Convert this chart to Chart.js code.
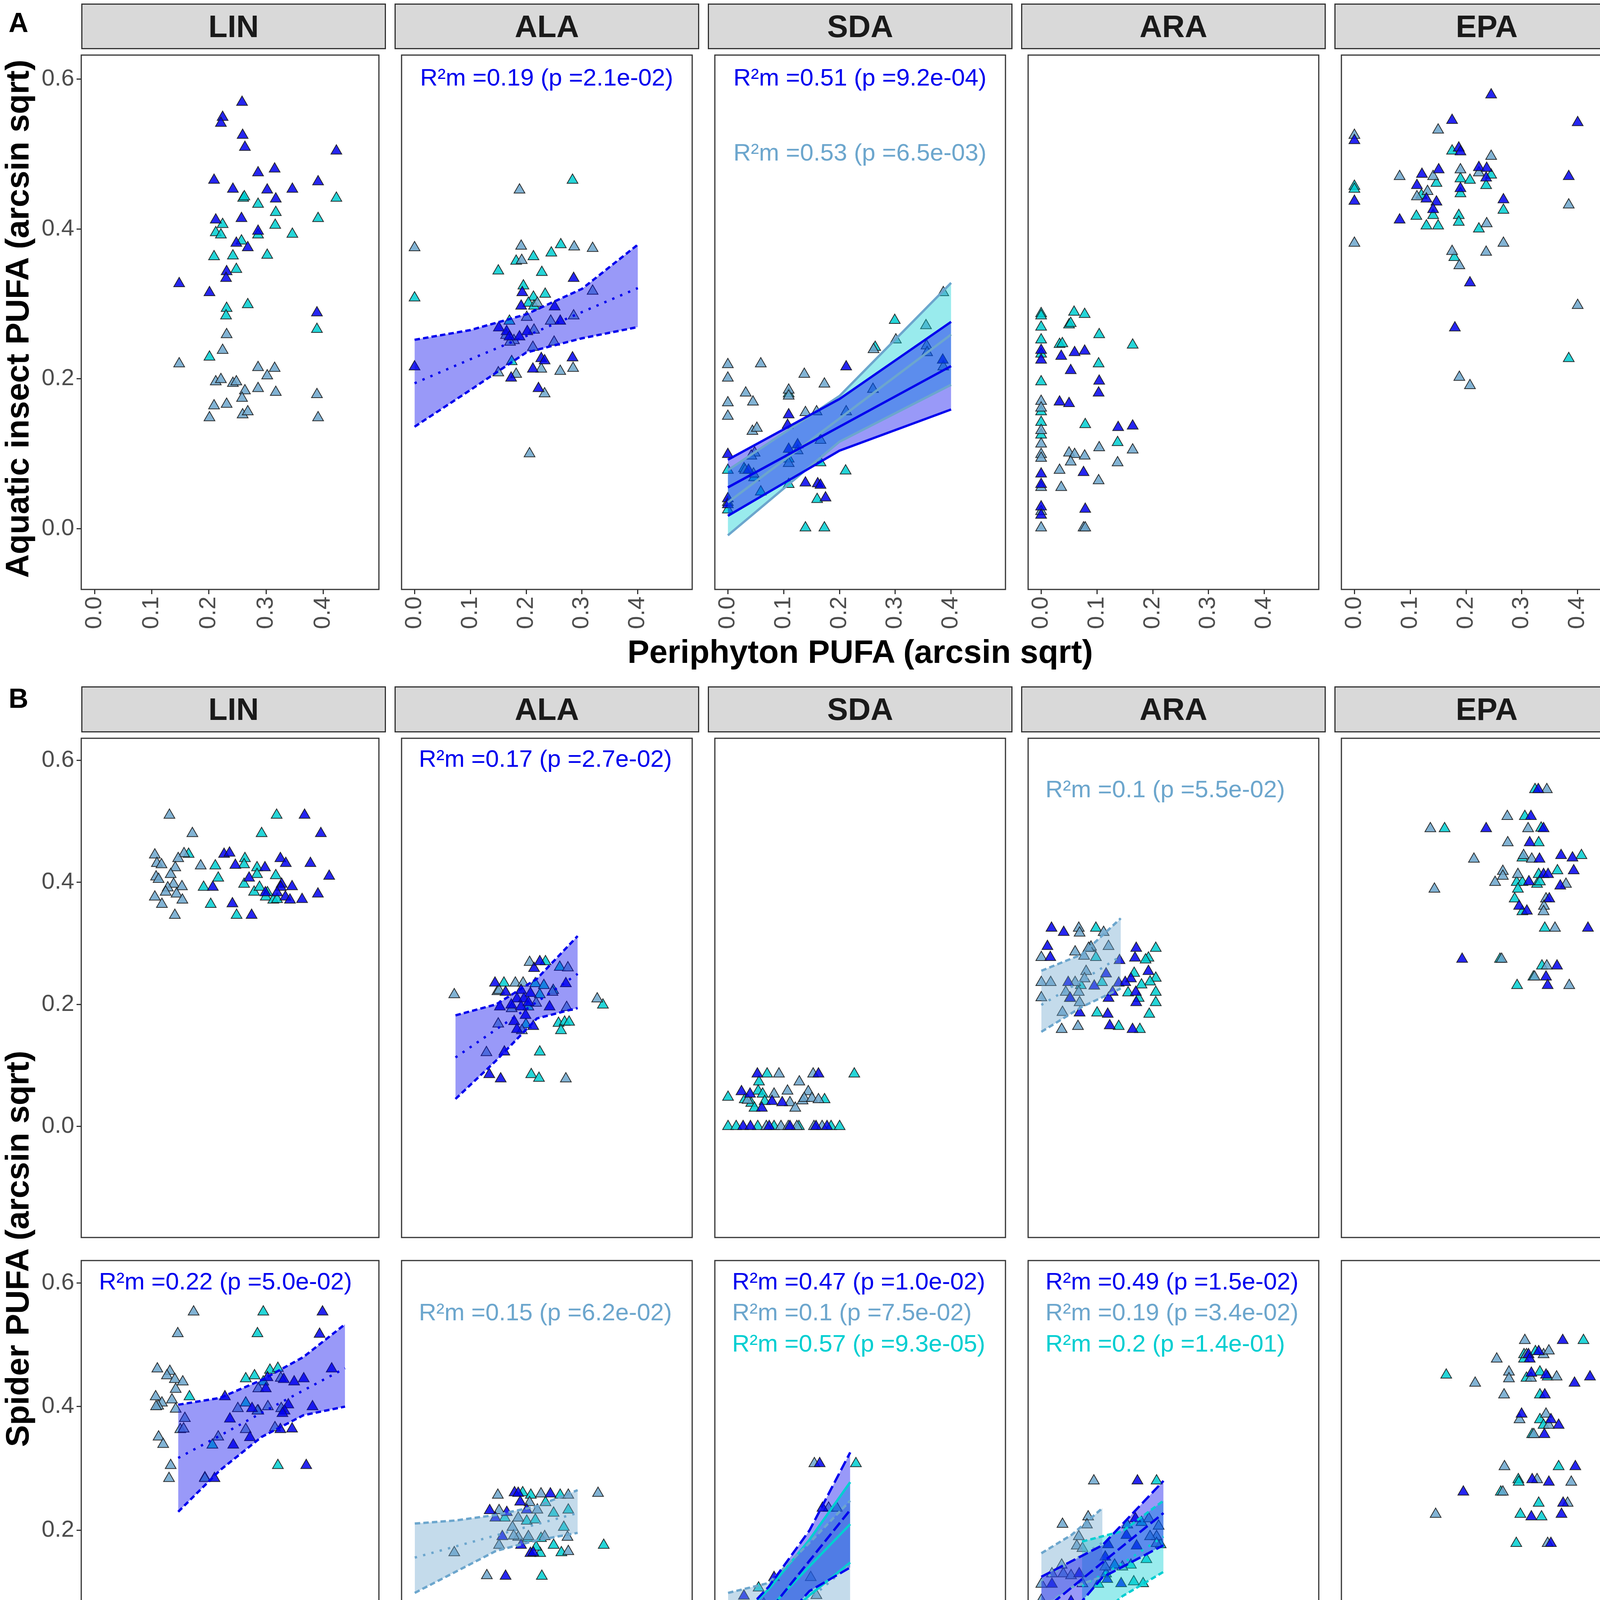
<!DOCTYPE html>
<html>
<head>
<meta charset="utf-8">
<script src="https://cdn.jsdelivr.net/npm/chart.js@4.4.1/dist/chart.umd.min.js"></script>
<style>
  html, body { margin: 0; padding: 0; background: #fff; }
  #fig { position: relative; width: 4317px; height: 4888px; overflow: hidden;
         font-family: "Liberation Sans", Arial, sans-serif; }
  #fig canvas { position: absolute; }
  .strip { position: absolute; box-sizing: border-box; background: #d9d9d9; border: 3px solid #333;
           display: flex; align-items: center; justify-content: center;
           font-weight: bold; font-size: 80px; color: #1a1a1a; }
  .vstrip { writing-mode: vertical-rl; font-size: 84px; }
  .lbl { position: absolute; white-space: nowrap; }
</style>
</head>
<body>
<div id="fig"></div>
<script>
/* ── Categories & ticks ─────────────────────────── */
const FACETS = ["LIN", "ALA", "SDA", "ARA", "EPA"];
const ROW_LABELS = ["periphyton - aquatic insects", "aquatic insect - ground spider", "aquatic insect - web spider"];
const TAXA = ["Diptera", "Ephemeroptera", "Plecoptera"];
const STRENGTHS = ["weak", "moderate", "strong"];
const X_TICKS_A = [0, 0.1, 0.2, 0.3, 0.4];
const X_TICKS_B = [0, 0.2, 0.4, 0.6];
const Y_TICKS = [0, 0.2, 0.4, 0.6];

/* ── A: periphyton -> aquatic insects ([x, y]) ─── */
const A_LIN_DIP = [[0.258,0.569],[0.224,0.549],[0.221,0.541],[0.259,0.525],[0.263,0.509],[0.423,0.504],[0.286,0.475],[0.315,0.480],[0.209,0.465],[0.391,0.463],[0.242,0.453],[0.302,0.452],[0.346,0.453],[0.317,0.440],[0.212,0.412],[0.257,0.414],[0.286,0.397],[0.248,0.381],[0.268,0.375],[0.231,0.343],[0.230,0.334],[0.148,0.327],[0.201,0.315],[0.389,0.288]];
const A_LIN_EPH = [[0.231,0.259],[0.224,0.238],[0.148,0.220],[0.286,0.215],[0.315,0.214],[0.302,0.204],[0.212,0.196],[0.221,0.199],[0.242,0.194],[0.248,0.196],[0.286,0.187],[0.263,0.184],[0.317,0.182],[0.389,0.179],[0.258,0.174],[0.209,0.164],[0.231,0.166],[0.259,0.152],[0.268,0.156],[0.201,0.148],[0.391,0.148]];
const A_LIN_PLE = [[0.260,0.441],[0.262,0.443],[0.423,0.441],[0.286,0.433],[0.317,0.422],[0.391,0.414],[0.224,0.406],[0.316,0.405],[0.212,0.395],[0.221,0.392],[0.346,0.393],[0.286,0.392],[0.257,0.384],[0.209,0.363],[0.242,0.364],[0.302,0.365],[0.248,0.346],[0.268,0.299],[0.231,0.294],[0.230,0.284],[0.389,0.266],[0.201,0.229]];

const A_ALA_DIP = [[0,0.216],[0.193,0.315],[0.191,0.297],[0.285,0.334],[0.251,0.296],[0.261,0.277],[0.151,0.268],[0.165,0.263],[0.188,0.256],[0.202,0.263],[0.227,0.227],[0.233,0.224],[0.212,0.213],[0.283,0.228],[0.173,0.201],[0.222,0.187],[0.170,0.256]];
const A_ALA_EPH = [[0,0.375],[0.188,0.452],[0.191,0.377],[0.192,0.358],[0.286,0.376],[0.319,0.374],[0.220,0.301],[0.201,0.282],[0.214,0.265],[0.164,0.258],[0.250,0.249],[0.178,0.251],[0.171,0.249],[0.244,0.277],[0.150,0.208],[0.182,0.206],[0.212,0.242],[0.227,0.213],[0.261,0.210],[0.284,0.214],[0.233,0.180],[0.206,0.100],[0.319,0.317],[0.285,0.284]];
const A_ALA_PLE = [[0,0.308],[0.283,0.465],[0.262,0.379],[0.245,0.368],[0.213,0.363],[0.182,0.357],[0.150,0.344],[0.228,0.342],[0.195,0.324],[0.234,0.313],[0.213,0.309],[0.204,0.301],[0.214,0.297],[0.170,0.277],[0.174,0.223]];

const A_SDA_DIP = [[0.212,0.216],[0.109,0.152],[0.107,0.138],[0,0.099],[0.125,0.112],[0.139,0.061],[0.161,0.060],[0.166,0.058],[0.175,0.041],[0,0.040],[0,0.032],[0.385,0.225],[0.037,0.078],[0.109,0.106]];
const A_SDA_EPH = [[0,0.219],[0.059,0.220],[0,0.201],[0.137,0.206],[0.173,0.193],[0.032,0.181],[0.045,0.169],[0,0.168],[0.109,0.185],[0.109,0.177],[0,0.150],[0.044,0.130],[0.052,0.134],[0.139,0.155],[0.159,0.156],[0.212,0.156],[0.166,0.118],[0.261,0.239],[0.355,0.271],[0.301,0.252],[0.356,0.244],[0.357,0.235],[0.386,0.315],[0.386,0.216],[0.048,0.101],[0.042,0.097],[0.109,0.087],[0.031,0.078],[0.046,0.073],[0,0.035],[0.260,0.186],[0.125,0.104]];
const A_SDA_PLE = [[0.109,0.180],[0.299,0.278],[0.264,0.242],[0,0.078],[0.029,0.080],[0.047,0.068],[0.059,0.049],[0.109,0.059],[0.166,0.088],[0.211,0.077],[0.160,0.039],[0.139,0.001],[0.173,0.001],[0,0.025],[0.109,0.093]];

const A_ARA_DIP = [[0,0.238],[0,0.225],[0.036,0.230],[0.060,0.235],[0.078,0.237],[0.053,0.211],[0.104,0.197],[0.103,0.181],[0.033,0.169],[0.050,0.167],[0.138,0.135],[0.164,0.137],[0,0.073],[0,0.059],[0.076,0.075],[0,0.029],[0,0.018],[0.079,0.026]];
const A_ARA_EPH = [[0,0.170],[0,0.161],[0,0.131],[0,0.113],[0,0.099],[0,0.094],[0.050,0.101],[0.060,0.099],[0.053,0.089],[0.078,0.097],[0.104,0.108],[0.164,0.105],[0.137,0.088],[0.033,0.078],[0.103,0.064],[0.036,0.055],[0,0.055],[0,0.023],[0,0.001],[0.076,0.001],[0.079,0.001]];
const A_ARA_PLE = [[0,0.287],[0,0.284],[0.059,0.289],[0.078,0.286],[0,0.269],[0.050,0.272],[0.053,0.274],[0.104,0.259],[0,0.252],[0.033,0.246],[0.038,0.247],[0.164,0.245],[0,0.233],[0.103,0.220],[0,0.196],[0,0.156],[0,0.142],[0,0.125],[0.079,0.139],[0.137,0.115]];

const A_EPA_DIP = [[0.245,0.579],[0.175,0.545],[0.400,0.542],[0,0.518],[0.472,0.513],[0.187,0.508],[0.190,0.503],[0.223,0.482],[0.237,0.481],[0.151,0.479],[0.121,0.473],[0.236,0.468],[0.384,0.470],[0.112,0.458],[0.190,0.454],[0.129,0.440],[0.147,0.436],[0,0.437],[0.267,0.439],[0.141,0.426],[0.081,0.412],[0.207,0.328],[0.180,0.268]];
const A_EPA_EPH = [[0.150,0.532],[0,0.525],[0.245,0.497],[0.190,0.479],[0.081,0.470],[0.141,0.470],[0.223,0.475],[0.131,0.450],[0.112,0.443],[0.384,0.432],[0.472,0.419],[0.237,0.407],[0,0.381],[0.267,0.381],[0.236,0.369],[0.175,0.370],[0.188,0.351],[0.400,0.298],[0.188,0.202],[0.207,0.191]];
const A_EPA_PLE = [[0.472,0.564],[0.175,0.504],[0.245,0.472],[0.190,0.467],[0.207,0.465],[0.147,0.461],[0.236,0.458],[0,0.457],[0,0.453],[0.190,0.447],[0.120,0.445],[0.267,0.425],[0.141,0.418],[0.187,0.418],[0.111,0.417],[0.187,0.409],[0.129,0.404],[0.150,0.404],[0.223,0.400],[0.179,0.362],[0.384,0.227]];

/* ── B row 1: aquatic insect -> ground spider ──── */
const B1_LIN_DIP = [[0.503,0.510],[0.542,0.480],[0.310,0.446],[0.323,0.448],[0.337,0.428],[0.408,0.424],[0.445,0.439],[0.458,0.431],[0.517,0.431],[0.562,0.410],[0.370,0.407],[0.283,0.392],[0.448,0.397],[0.446,0.392],[0.473,0.393],[0.409,0.383],[0.437,0.383],[0.457,0.376],[0.468,0.371],[0.497,0.372],[0.535,0.381],[0.330,0.365],[0.376,0.346]];
const B1_LIN_EPH = [[0.179,0.510],[0.234,0.480],[0.144,0.445],[0.214,0.447],[0.200,0.439],[0.149,0.431],[0.160,0.429],[0.193,0.424],[0.254,0.427],[0.182,0.413],[0.147,0.409],[0.153,0.405],[0.189,0.397],[0.209,0.393],[0.175,0.391],[0.170,0.384],[0.196,0.381],[0.144,0.376],[0.210,0.371],[0.161,0.364],[0.192,0.346]];
const B1_LIN_PLE = [[0.436,0.510],[0.400,0.480],[0.225,0.446],[0.289,0.427],[0.360,0.439],[0.358,0.429],[0.389,0.424],[0.296,0.407],[0.261,0.392],[0.434,0.411],[0.358,0.397],[0.382,0.384],[0.395,0.392],[0.414,0.383],[0.410,0.376],[0.428,0.371],[0.437,0.372],[0.278,0.364],[0.340,0.346],[0.389,0.413]];

const B1_ALA_DIP = [[0.197,0.235],[0.293,0.259],[0.307,0.270],[0.223,0.220],[0.261,0.223],[0.284,0.218],[0.251,0.209],[0.268,0.209],[0.209,0.196],[0.237,0.199],[0.261,0.196],[0.279,0.203],[0.331,0.196],[0.371,0.234],[0.272,0.182],[0.244,0.172],[0.291,0.164],[0.220,0.122],[0.183,0.085],[0.211,0.078],[0.251,0.159]];
const B1_ALA_EPH = [[0.097,0.216],[0.282,0.269],[0.203,0.221],[0.207,0.223],[0.247,0.235],[0.266,0.235],[0.448,0.209],[0.176,0.121],[0.205,0.168],[0.238,0.193],[0.338,0.220],[0.373,0.195],[0.371,0.078],[0.263,0.157],[0.376,0.260],[0.298,0.202]];
const B1_ALA_PLE = [[0.219,0.235],[0.321,0.270],[0.296,0.234],[0.307,0.216],[0.317,0.231],[0.340,0.223],[0.462,0.199],[0.353,0.169],[0.368,0.171],[0.379,0.171],[0.359,0.157],[0.307,0.122],[0.286,0.085],[0.305,0.079],[0.279,0.196],[0.356,0.261],[0.273,0.167]];

const B1_SDA_DIP = [[0.037,0],[0.055,0],[0.101,0],[0.152,0],[0.216,0],[0.243,0],[0.072,0.086],[0.222,0.086],[0.033,0.057],[0.054,0.053],[0.083,0.030],[0.108,0.041],[0.133,0.039]];
const B1_SDA_EPH = [[0.094,0],[0.130,0],[0.148,0],[0.169,0],[0.211,0],[0.231,0],[0.125,0.086],[0.209,0.086],[0.175,0.073],[0.113,0.053],[0.146,0.058],[0.197,0.057],[0.048,0.043],[0.152,0.039],[0.165,0.030],[0.183,0.042],[0.187,0.046],[0.206,0.046],[0.222,0.044]];
const B1_SDA_PLE = [[0,0],[0.020,0],[0.073,0],[0.113,0],[0.174,0],[0.253,0],[0.274,0],[0.096,0.086],[0.310,0.086],[0.076,0.073],[0,0.048],[0.074,0.058],[0.085,0.053],[0.041,0.044],[0.057,0.038],[0.065,0.030],[0.090,0.041],[0.237,0.044]];

const B1_ARA_DIP = [[0.025,0.325],[0.055,0.318],[0.015,0.295],[0.022,0.277],[0.233,0.292],[0.230,0.276],[0.192,0.272],[0.263,0.254],[0.159,0.250],[0.130,0.230],[0.066,0.236],[0.190,0.235],[0.220,0.242],[0.206,0.236],[0.175,0.220],[0.165,0.210],[0.232,0.220],[0.233,0.203],[0.094,0.186],[0.163,0.184],[0.168,0.165],[0.224,0.159],[0.071,0.210]];
const B1_ARA_EPH = [[0.092,0.325],[0.094,0.317],[0.153,0.318],[0.165,0.295],[0.083,0.286],[0.122,0.294],[0.105,0.279],[0,0.277],[0.110,0.254],[0,0.236],[0.023,0.236],[0.083,0.236],[0.106,0.242],[0,0.211],[0.060,0.220],[0.092,0.220],[0.070,0.210],[0.094,0.203],[0.052,0.187],[0.050,0.159],[0.090,0.164],[0.116,0.292]];
const B1_ARA_PLE = [[0.134,0.325],[0.120,0.292],[0.134,0.277],[0.281,0.292],[0.263,0.276],[0.256,0.273],[0.228,0.251],[0.149,0.236],[0.281,0.243],[0.267,0.237],[0.246,0.232],[0.281,0.220],[0.213,0.219],[0.239,0.210],[0.281,0.203],[0.137,0.186],[0.190,0.164],[0.242,0.159],[0.265,0.184],[0.097,0.231]];

const B1_EPA_DIP = [[0.451,0.552],[0.433,0.508],[0.323,0.488],[0.464,0.488],[0.430,0.465],[0.454,0.438],[0.507,0.444],[0.535,0.440],[0.464,0.413],[0.475,0.413],[0.538,0.419],[0.428,0.401],[0.505,0.394],[0.404,0.361],[0.423,0.353],[0.478,0.373],[0.573,0.325],[0.264,0.274],[0.497,0.263],[0.470,0.245],[0.474,0.231]];
const B1_EPA_EPH = [[0.472,0.552],[0.375,0.508],[0.186,0.488],[0.426,0.488],[0.376,0.465],[0.293,0.438],[0.415,0.444],[0.435,0.438],[0.364,0.418],[0.364,0.410],[0.401,0.413],[0.345,0.400],[0.519,0.397],[0.196,0.389],[0.470,0.373],[0.465,0.361],[0.464,0.352],[0.492,0.325],[0.361,0.274],[0.472,0.263],[0.442,0.245],[0.527,0.231]];
const B1_EPA_PLE = [[0.443,0.552],[0.418,0.508],[0.221,0.488],[0.458,0.489],[0.452,0.465],[0.412,0.440],[0.557,0.444],[0.452,0.413],[0.498,0.419],[0.398,0.400],[0.412,0.400],[0.448,0.397],[0.455,0.401],[0.401,0.389],[0.393,0.373],[0.412,0.352],[0.467,0.325],[0.357,0.274],[0.460,0.263],[0.439,0.245],[0.399,0.231]];

/* ── B row 2: aquatic insect -> web spider ─────── */
const B2_LIN_DIP = [[0.546,0.553],[0.539,0.517],[0.568,0.461],[0.414,0.447],[0.478,0.440],[0.501,0.445],[0.453,0.444],[0.410,0.429],[0.312,0.416],[0.377,0.397],[0.464,0.403],[0.455,0.393],[0.450,0.389],[0.522,0.400],[0.324,0.380],[0.473,0.364],[0.445,0.363],[0.372,0.350],[0.332,0.338],[0.507,0.305],[0.287,0.284]];
const B2_LIN_EPH = [[0.237,0.553],[0.199,0.518],[0.150,0.461],[0.180,0.457],[0.173,0.450],[0.192,0.444],[0.211,0.440],[0.194,0.428],[0.146,0.416],[0.185,0.411],[0.161,0.406],[0.152,0.401],[0.147,0.400],[0.194,0.396],[0.216,0.381],[0.205,0.363],[0.213,0.364],[0.153,0.351],[0.164,0.339],[0.182,0.305],[0.178,0.284],[0.264,0.284],[0.296,0.351],[0.362,0.363],[0.432,0.366],[0.447,0.397],[0.415,0.400],[0.392,0.429],[0.446,0.446],[0.343,0.397],[0.390,0.393]];
const B2_LIN_PLE = [[0.404,0.553],[0.390,0.518],[0.227,0.416],[0.362,0.445],[0.383,0.450],[0.420,0.459],[0.439,0.462],[0.404,0.440],[0.362,0.406],[0.392,0.393],[0.439,0.305],[0.282,0.338],[0.264,0.285]];

const B2_ALA_DIP = [[0.245,0.261],[0.254,0.260],[0.259,0.246],[0.333,0.259],[0.184,0.232],[0.226,0.229],[0.198,0.220],[0.275,0.233],[0.215,0.190],[0.261,0.176],[0.284,0.163],[0.223,0.126],[0.291,0.164]];
const B2_ALA_EPH = [[0.204,0.257],[0.450,0.260],[0.097,0.164],[0.177,0.127],[0.207,0.232],[0.240,0.205],[0.254,0.220],[0.282,0.245],[0.301,0.233],[0.279,0.190],[0.254,0.189],[0.243,0.191],[0.207,0.176],[0.319,0.190],[0.375,0.189],[0.377,0.166],[0.377,0.257],[0.310,0.259]];
const B2_ALA_PLE = [[0.265,0.261],[0.285,0.257],[0.357,0.257],[0.321,0.245],[0.341,0.228],[0.377,0.233],[0.221,0.220],[0.275,0.215],[0.296,0.217],[0.366,0.205],[0.277,0.187],[0.310,0.187],[0.341,0.176],[0.360,0.164],[0.464,0.176],[0.308,0.163],[0.312,0.126],[0.298,0.173]];

const B2_SDA_DIP = [[0.225,0.308],[0.232,0.236],[0.113,0.124],[0.039,0.094],[0.030,0.071],[0.108,0],[0.193,0],[0.174,0.055]];
const B2_SDA_EPH = [[0.212,0.308],[0.247,0.236],[0.267,0.236],[0.203,0.124],[0.217,0.095],[0.200,0.071],[0.060,0.064],[0.088,0.081],[0.135,0.069],[0.155,0.061],[0.039,0.038],[0.060,0.038],[0.107,0.038],[0.130,0.038],[0.153,0.035],[0.179,0.038],[0.219,0.038],[0.022,0],[0.039,0],[0.130,0],[0.148,0],[0.170,0],[0.189,0],[0.149,0.071]];
const B2_SDA_PLE = [[0.314,0.308],[0.075,0.107],[0,0.062],[0.050,0.054],[0.175,0.058],[0.079,0.038],[0,0],[0.067,0],[0.088,0],[0.097,0]];

const B2_ARA_DIP = [[0.236,0.280],[0.231,0.219],[0.209,0.192],[0.164,0.177],[0.196,0.114],[0.073,0.085],[0.134,0.075],[0.026,0.113],[0.093,0.130],[0.234,0.175],[0.162,0.121],[0.157,0.157]];
const B2_ARA_EPH = [[0.129,0.280],[0.052,0.210],[0.115,0.222],[0.112,0.209],[0.092,0.190],[0.087,0.175],[0.101,0.171],[0.050,0.144],[0.026,0.130],[0,0.113],[0,0.087],[0.054,0.130],[0.073,0.127],[0.101,0.114],[0.264,0.219],[0.283,0.190],[0.267,0.190],[0.288,0.207],[0.157,0.141],[0.283,0.179],[0.199,0.141]];
const B2_ARA_PLE = [[0.283,0.280],[0.211,0.209],[0.246,0.213],[0.258,0.153],[0.227,0.117],[0.250,0.114],[0.246,0.075],[0.106,0.075],[0.140,0.113],[0.180,0.144],[0.220,0.144],[0.293,0.177],[0.159,0.130]];

const B2_EPA_DIP = [[0.511,0.507],[0.427,0.484],[0.452,0.489],[0.430,0.477],[0.434,0.454],[0.470,0.451],[0.540,0.438],[0.578,0.448],[0.467,0.419],[0.410,0.388],[0.482,0.379],[0.501,0.370],[0.466,0.355],[0.542,0.303],[0.436,0.282],[0.477,0.278],[0.267,0.262],[0.512,0.244],[0.434,0.222],[0.508,0.226],[0.482,0.179]];
const B2_EPA_EPH = [[0.418,0.507],[0.349,0.477],[0.422,0.484],[0.464,0.484],[0.477,0.490],[0.296,0.438],[0.379,0.456],[0.379,0.445],[0.367,0.419],[0.433,0.446],[0.496,0.448],[0.405,0.379],[0.470,0.388],[0.477,0.370],[0.440,0.355],[0.368,0.303],[0.448,0.282],[0.532,0.278],[0.364,0.262],[0.523,0.244],[0.199,0.226],[0.474,0.179]];
const B2_EPA_PLE = [[0.562,0.507],[0.416,0.484],[0.444,0.489],[0.416,0.477],[0.225,0.451],[0.422,0.446],[0.455,0.456],[0.474,0.448],[0.455,0.419],[0.455,0.379],[0.464,0.370],[0.436,0.355],[0.501,0.303],[0.402,0.282],[0.403,0.278],[0.359,0.262],[0.452,0.244],[0.407,0.226],[0.459,0.222],[0.397,0.179]];

/* ── Fitted lines with CI: [x, lower, fit, upper] ─ */
const A_ALA_DIP_BAND = [[0,0.136,0.194,0.252],[0.1,0.185,0.226,0.265],[0.2,0.235,0.257,0.286],[0.3,0.254,0.289,0.320],[0.4,0.269,0.321,0.379]];
const A_SDA_DIP_BAND = [[0,0.017,0.055,0.092],[0.2,0.104,0.136,0.173],[0.4,0.159,0.217,0.276]];
const A_SDA_EPH_BAND = [[0,-0.009,0.035,0.078],[0.2,0.116,0.147,0.177],[0.4,0.192,0.259,0.328]];
const B1_ALA_DIP_BAND = [[0.1,0.045,0.113,0.182],[0.2,0.108,0.159,0.200],[0.3,0.177,0.204,0.242],[0.4,0.194,0.250,0.312]];
const B1_ARA_EPH_BAND = [[0,0.155,0.199,0.255],[0.1,0.196,0.239,0.282],[0.195,0.226,0.279,0.341]];
const B2_LIN_DIP_BAND = [[0.2,0.230,0.317,0.403],[0.3,0.297,0.353,0.414],[0.4,0.351,0.390,0.443],[0.5,0.386,0.426,0.480],[0.6,0.400,0.462,0.533]];
const B2_ALA_EPH_BAND = [[0,0.099,0.156,0.211],[0.1,0.133,0.174,0.216],[0.2,0.167,0.192,0.225],[0.3,0.184,0.210,0.239],[0.4,0.196,0.228,0.265]];
const B2_SDA_DIP_BAND = [[0,-0.068,-0.013,0.039],[0.1,0.029,0.069,0.109],[0.2,0.102,0.151,0.200],[0.3,0.140,0.233,0.326]];
const B2_SDA_EPH_BAND = [[0,-0.143,-0.022,0.099],[0.1,-0.040,0.034,0.115],[0.2,0.019,0.089,0.180],[0.3,0.043,0.145,0.248]];
const B2_SDA_PLE_BAND = [[0,-0.045,0.005,0.039],[0.1,0.035,0.073,0.105],[0.2,0.095,0.142,0.185],[0.3,0.148,0.210,0.278]];
const B2_ARA_DIP_BAND = [[0,0.009,0.068,0.125],[0.15,0.124,0.148,0.176],[0.3,0.176,0.228,0.280]];
const B2_ARA_EPH_BAND = [[0,0.075,0.119,0.163],[0.075,0.108,0.150,0.193],[0.15,0.125,0.180,0.236]];
const B2_ARA_PLE_BAND = [[0.1,0.039,0.110,0.182],[0.2,0.094,0.147,0.199],[0.3,0.133,0.190,0.248]];

/* ── Model stats: [taxon index, R2m, p] ────────── */
const A_ALA_STATS = [[0, "0.19", "2.1e-02"]];
const A_SDA_STATS = [[0, "0.51", "9.2e-04"], [1, "0.53", "6.5e-03"]];
const B1_ALA_STATS = [[0, "0.17", "2.7e-02"]];
const B1_ARA_STATS = [[1, "0.1", "5.5e-02"]];
const B2_LIN_STATS = [[0, "0.22", "5.0e-02"]];
const B2_ALA_STATS = [[1, "0.15", "6.2e-02"]];
const B2_SDA_STATS = [[0, "0.47", "1.0e-02"], [1, "0.1", "7.5e-02"], [2, "0.57", "9.3e-05"]];
const B2_ARA_STATS = [[0, "0.49", "1.5e-02"], [1, "0.19", "3.4e-02"], [2, "0.2", "1.4e-01"]];

/* ── Styles & layout ───────────────────────────── */
const FONT = '"Liberation Sans", Arial, sans-serif';
const TAXON_COLOR = ["#0000EE", "#6CA6CD", "#00CED1"];
const POINT_FILL  = ["rgba(0,0,238,0.85)", "rgba(108,166,205,0.85)", "rgba(0,206,209,0.85)"];
const BAND_FILL   = ["rgba(0,0,238,0.4)", "rgba(108,166,205,0.4)", "rgba(0,206,209,0.4)"];
const DASH = [ { edge: [14, 8], fit: [6, 16] },     // weak
               { edge: [26, 10], fit: [26, 10] },   // moderate
               { edge: [], fit: [] } ];             // strong

const COL_X = [208, 1010, 1812, 2614, 3416], COL_W = 780;
const ROW_Y = [[123, 1509], [1872, 3186], [3209, 4523]];
const X_RANGE = [[-0.0233, 0.4974], [-0.0324, 0.6812]];
const Y_RANGE = [[-0.0812, 0.632], [-0.182, 0.636]];

// band spec: [taxon, strength, fill taxon, rows]
const PANELS = [
  { row: 0, col: 0, pts: [A_LIN_DIP, A_LIN_EPH, A_LIN_PLE], bands: [], stats: [] },
  { row: 0, col: 1, pts: [A_ALA_DIP, A_ALA_EPH, A_ALA_PLE], bands: [[0, 0, 0, A_ALA_DIP_BAND]], stats: A_ALA_STATS },
  { row: 0, col: 2, pts: [A_SDA_DIP, A_SDA_EPH, A_SDA_PLE], bands: [[0, 2, 0, A_SDA_DIP_BAND], [1, 2, 2, A_SDA_EPH_BAND]], stats: A_SDA_STATS },
  { row: 0, col: 3, pts: [A_ARA_DIP, A_ARA_EPH, A_ARA_PLE], bands: [], stats: [] },
  { row: 0, col: 4, pts: [A_EPA_DIP, A_EPA_EPH, A_EPA_PLE], bands: [], stats: [] },
  { row: 1, col: 0, pts: [B1_LIN_DIP, B1_LIN_EPH, B1_LIN_PLE], bands: [], stats: [] },
  { row: 1, col: 1, pts: [B1_ALA_DIP, B1_ALA_EPH, B1_ALA_PLE], bands: [[0, 0, 0, B1_ALA_DIP_BAND]], stats: B1_ALA_STATS },
  { row: 1, col: 2, pts: [B1_SDA_DIP, B1_SDA_EPH, B1_SDA_PLE], bands: [], stats: [] },
  { row: 1, col: 3, pts: [B1_ARA_DIP, B1_ARA_EPH, B1_ARA_PLE], bands: [[1, 0, 1, B1_ARA_EPH_BAND]], stats: B1_ARA_STATS },
  { row: 1, col: 4, pts: [B1_EPA_DIP, B1_EPA_EPH, B1_EPA_PLE], bands: [], stats: [] },
  { row: 2, col: 0, pts: [B2_LIN_DIP, B2_LIN_EPH, B2_LIN_PLE], bands: [[0, 0, 0, B2_LIN_DIP_BAND]], stats: B2_LIN_STATS },
  { row: 2, col: 1, pts: [B2_ALA_DIP, B2_ALA_EPH, B2_ALA_PLE], bands: [[1, 0, 1, B2_ALA_EPH_BAND]], stats: B2_ALA_STATS },
  { row: 2, col: 2, pts: [B2_SDA_DIP, B2_SDA_EPH, B2_SDA_PLE],
    bands: [[0, 1, 0, B2_SDA_DIP_BAND], [1, 0, 1, B2_SDA_EPH_BAND], [2, 2, 2, B2_SDA_PLE_BAND]], stats: B2_SDA_STATS },
  { row: 2, col: 3, pts: [B2_ARA_DIP, B2_ARA_EPH, B2_ARA_PLE],
    bands: [[0, 1, 0, B2_ARA_DIP_BAND], [1, 0, 1, B2_ARA_EPH_BAND], [2, 0, 2, B2_ARA_PLE_BAND]], stats: B2_ARA_STATS },
  { row: 2, col: 4, pts: [B2_EPA_DIP, B2_EPA_EPH, B2_EPA_PLE], bands: [], stats: [] },
];

const fig = document.getElementById("fig");

function addLabel(text, css) {
  const el = document.createElement("div");
  el.className = "lbl";
  el.textContent = text;
  Object.assign(el.style, css);
  fig.appendChild(el);
  return el;
}

/* ── One facet panel ───────────────────────────── */
function panelChart(p) {
  const [top, bottom] = ROW_Y[p.row];
  const left = COL_X[p.col], w = COL_W, h = bottom - top;
  const padL = p.col === 0 ? 110 : 0;
  const padB = p.row === 1 ? 0 : 140;
  const part = p.row === 0 ? 0 : 1;
  const xTicks = part === 0 ? X_TICKS_A : X_TICKS_B;
  const step = part === 0 ? 0.1 : 0.05;

  const cv = document.createElement("canvas");
  cv.width = w + padL; cv.height = h + padB;
  Object.assign(cv.style, { left: (left - padL) + "px", top: top + "px",
                            width: (w + padL) + "px", height: (h + padB) + "px" });
  fig.appendChild(cv);

  const xy = rows => rows.map(([x, y]) => ({ x, y }));
  const col = (rows, i) => rows.map(r => ({ x: r[0], y: r[i] }));
  const datasets = [];

  p.pts.forEach((pts, t) => datasets.push({
    type: "scatter", label: TAXA[t], data: xy(pts), order: 3,
    pointStyle: "triangle", pointRadius: 16, pointHoverRadius: 16,
    backgroundColor: POINT_FILL[t], borderColor: "rgba(25,25,25,0.9)", borderWidth: 2,
  }));

  p.bands.forEach(([t, s, f, rows]) => {
    const line = { type: "line", pointRadius: 0, tension: 0, fill: false };
    datasets.push({ ...line, data: col(rows, 1), borderWidth: 0, order: 2 });
    datasets.push({ ...line, data: col(rows, 3), borderWidth: 0, order: 2,
                    fill: "-1", backgroundColor: BAND_FILL[f] });
    [1, 3].forEach(i => datasets.push({ ...line, data: col(rows, i), order: 1,
                    borderColor: TAXON_COLOR[t], borderWidth: 6, borderDash: DASH[s].edge }));
    datasets.push({ ...line, data: col(rows, 2), order: 1,
                    borderColor: TAXON_COLOR[t], borderWidth: 6, borderDash: DASH[s].fit });
  });

  const tickFont = { family: FONT, size: 60 };
  const grid = { display: true, drawOnChartArea: false, drawTicks: true,
                 tickLength: 12, tickWidth: 3, tickColor: "#333333" };

  const deco = {
    id: "deco",
    afterDatasetsDraw(chart) {
      const { ctx, chartArea: a, scales } = chart;
      ctx.save();
      ctx.font = "62px " + FONT;
      ctx.textAlign = "left";
      ctx.textBaseline = "middle";
      p.stats.forEach(([t, r2, pv]) => {
        ctx.fillStyle = TAXON_COLOR[t];
        ctx.fillText("R\u00B2m =" + r2 + " (p =" + pv + ")",
                     scales.x.getPixelForValue(0.01), scales.y.getPixelForValue(0.6 - t * step));
      });
      ctx.lineWidth = 3;
      ctx.strokeStyle = "#333333";
      ctx.strokeRect(a.left, a.top, a.right - a.left, a.bottom - a.top);
      ctx.restore();
    }
  };

  new Chart(cv, {
    type: "scatter",
    data: { datasets },
    plugins: [deco],
    options: {
      responsive: false, animation: false, devicePixelRatio: 1,
      layout: { padding: 0 },
      plugins: { legend: { display: false }, tooltip: { enabled: false } },
      scales: {
        x: {
          type: "linear", min: X_RANGE[part][0], max: X_RANGE[part][1], display: padB > 0,
          afterBuildTicks: s => { s.ticks = xTicks.map(v => ({ value: v })); },
          afterFit: s => { s.height = padB; s.paddingLeft = 0; s.paddingRight = 0; },
          ticks: { autoSkip: false, minRotation: 90, maxRotation: 90, padding: 6,
                   color: "#4d4d4d", font: tickFont, callback: v => Number(v).toFixed(1) },
          grid, border: { display: false },
        },
        y: {
          type: "linear", min: Y_RANGE[part][0], max: Y_RANGE[part][1], display: padL > 0,
          afterBuildTicks: s => { s.ticks = Y_TICKS.map(v => ({ value: v })); },
          afterFit: s => { s.width = padL; s.paddingTop = 0; s.paddingBottom = 0; },
          ticks: { autoSkip: false, padding: 6, color: "#4d4d4d", font: tickFont,
                   callback: v => Number(v).toFixed(1) },
          grid, border: { display: false },
        },
      },
    },
  });
}

PANELS.forEach(panelChart);

/* ── Strips ────────────────────────────────────── */
[[9, 126], [1757, 1875]].forEach(([t, b]) => {
  FACETS.forEach((name, c) => {
    const el = document.createElement("div");
    el.className = "strip";
    el.textContent = name;
    Object.assign(el.style, { left: COL_X[c] + "px", top: t + "px", width: COL_W + "px", height: (b - t) + "px" });
    fig.appendChild(el);
  });
});
ROW_LABELS.forEach((name, r) => {
  const el = document.createElement("div");
  el.className = "strip vstrip";
  el.textContent = name;
  const [t, b] = ROW_Y[r];
  Object.assign(el.style, { left: "4194px", top: t + "px", width: "117px", height: (b - t) + "px" });
  fig.appendChild(el);
});

/* ── Titles ────────────────────────────────────── */
const bold = { fontWeight: "bold", fontSize: "84px", color: "#000" };
addLabel("A", { left: "22px", top: "18px", fontWeight: "bold", fontSize: "70px" });
addLabel("B", { left: "22px", top: "1748px", fontWeight: "bold", fontSize: "70px" });
addLabel("Periphyton PUFA (arcsin sqrt)", { ...bold, left: "2202px", top: "1668px", transform: "translate(-50%,-50%)" });
addLabel("Aquatic insect PUFA (arcsin sqrt)", { ...bold, left: "2202px", top: "4682px", transform: "translate(-50%,-50%)" });
addLabel("Aquatic insect PUFA (arcsin sqrt)", { ...bold, left: "44px", top: "816px", transform: "translate(-50%,-50%) rotate(-90deg)" });
addLabel("Spider PUFA (arcsin sqrt)", { ...bold, left: "44px", top: "3197px", transform: "translate(-50%,-50%) rotate(-90deg)" });

/* ── Legend ────────────────────────────────────── */
const LEG_Y = 4831;
const legTri = [405, 966, 1817];
TAXA.forEach((name, t) => {
  const svg = document.createElementNS("http://www.w3.org/2000/svg", "svg");
  svg.setAttribute("width", "54"); svg.setAttribute("height", "48");
  Object.assign(svg.style, { position: "absolute", left: (legTri[t] - 27) + "px", top: (LEG_Y - 26) + "px" });
  svg.innerHTML = `<polygon points="27,3 51,45 3,45" fill="${TAXON_COLOR[t]}" stroke="#222" stroke-width="3"/>`;
  fig.appendChild(svg);
  addLabel(name, { left: (legTri[t] + 150) + "px", top: LEG_Y + "px", fontSize: "80px", transform: "translateY(-50%)" });
});
const legKey = [2628, 3117, 3750];
const legDash = ["5 9", "20 10", ""];
STRENGTHS.forEach((name, s) => {
  const svg = document.createElementNS("http://www.w3.org/2000/svg", "svg");
  svg.setAttribute("width", "56"); svg.setAttribute("height", "20");
  Object.assign(svg.style, { position: "absolute", left: legKey[s] + "px", top: (LEG_Y - 10) + "px" });
  svg.innerHTML = `<line x1="0" y1="10" x2="56" y2="10" stroke="#000" stroke-width="6" stroke-dasharray="${legDash[s]}"/>`;
  fig.appendChild(svg);
  addLabel(name, { left: (legKey[s] + 171) + "px", top: LEG_Y + "px", fontSize: "80px", transform: "translateY(-50%)" });
});
</script>
</body>
</html>
